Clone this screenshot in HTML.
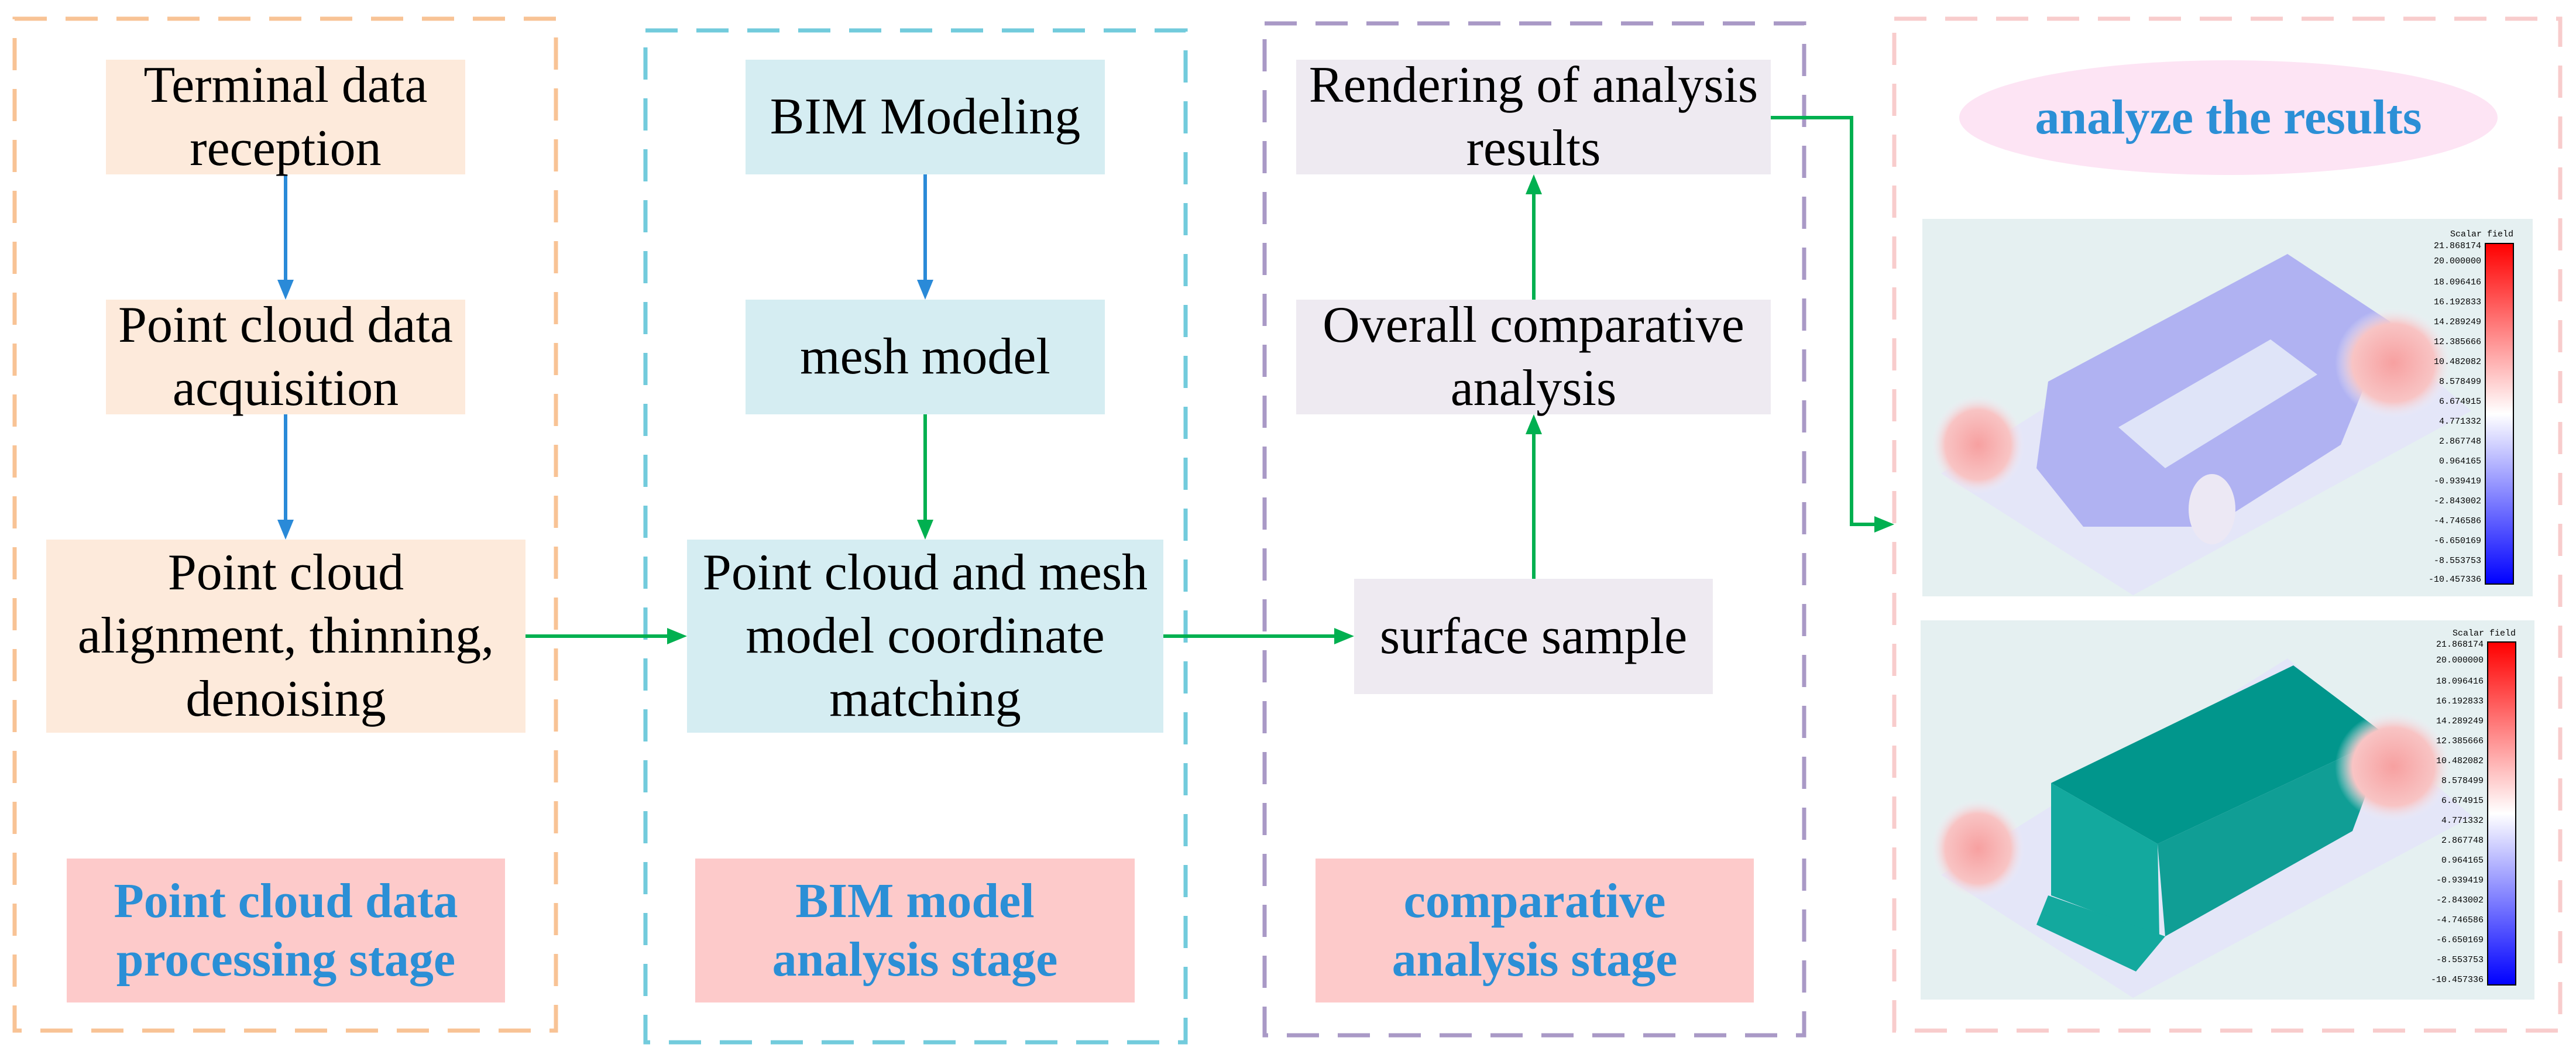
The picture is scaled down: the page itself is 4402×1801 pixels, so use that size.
<!DOCTYPE html>
<html><head><meta charset="utf-8"><style>
body{margin:0;width:4402px;height:1801px;background:#fff;position:relative;overflow:hidden;font-family:"Liberation Serif",serif}
.b{position:absolute;display:flex;align-items:center;justify-content:center;text-align:center;font-size:88px;line-height:108px;color:#000;white-space:nowrap}
.l{position:absolute;display:flex;align-items:center;justify-content:center;text-align:center;font-size:84px;line-height:100px;font-weight:bold;color:#2b8fd6;background:#fdcaca}
.o{background:#fdeadb}.c{background:#d5edf2}.p{background:#eeeaf1}
svg{position:absolute;left:0;top:0}
</style></head><body>
<svg width="4402" height="1801" viewBox="0 0 4402 1801">
<defs>
<linearGradient id="bar" x1="0" y1="0" x2="0" y2="1"><stop offset="0" stop-color="#ff0000"/><stop offset="0.5" stop-color="#ffffff"/><stop offset="1" stop-color="#0000ff"/></linearGradient>
<radialGradient id="tree"><stop offset="0" stop-color="#f7a0a0"/><stop offset="0.7" stop-color="#f8c4c4"/><stop offset="1" stop-color="#f0eef8" stop-opacity="0"/></radialGradient>
</defs>
<g fill="none" stroke-width="7" stroke-dasharray="55,32">
<rect x="25" y="32" width="925" height="1729" stroke="#f8c395"/>
<rect x="1103" y="52" width="923" height="1729" stroke="#72cbdc"/>
<rect x="2161" y="40" width="922" height="1729" stroke="#a999c6"/>
<rect x="3237" y="32" width="1138" height="1729" stroke="#f8cccc"/>
</g>
<ellipse cx="3808" cy="201" rx="460" ry="98" fill="#fde4f4"/>
<rect x="3285" y="374" width="1043" height="645" fill="#e5f0f1"/>
<polygon points="3317,809 3909,434 4223,702 3645,1017" fill="#e4e6f8"/>
<polygon points="3500,652 3909,434 4085,550 4000,760 3780,900 3560,900 3480,800" fill="#b0b2f2"/>
<polygon points="3620,730 3880,580 3960,640 3700,800" fill="#dfe4f8"/>
<ellipse cx="3380" cy="760" rx="80" ry="85" fill="url(#tree)"/>
<ellipse cx="4090" cy="620" rx="100" ry="95" fill="url(#tree)"/>
<ellipse cx="3780" cy="870" rx="40" ry="60" fill="#ece8f4"/>
<rect x="4247" y="416" width="48" height="582" fill="url(#bar)" stroke="#000" stroke-width="2"/>
<rect x="3282" y="1060" width="1049" height="648" fill="#e5f0f1"/>
<polygon points="3317,1495 3909,1125 4225,1395 3645,1705" fill="#e4e6f8"/>
<polygon points="3505,1338 3919,1137 4080,1258 3687,1442" fill="#01968c"/>
<polygon points="3505,1338 3687,1442 3690,1600 3505,1530" fill="#13a99e"/>
<polygon points="3687,1442 4080,1258 4020,1420 3700,1600" fill="#109e95"/>
<polygon points="3500,1530 3700,1600 3650,1660 3480,1580" fill="#13a99e"/>
<ellipse cx="3380" cy="1450" rx="80" ry="85" fill="url(#tree)"/>
<ellipse cx="4090" cy="1310" rx="100" ry="95" fill="url(#tree)"/>
<rect x="4251" y="1097" width="48" height="586" fill="url(#bar)" stroke="#000" stroke-width="2"/>
<g font-family="Liberation Mono,monospace" font-size="15" fill="#000" text-anchor="end">
<text x="4240" y="424">21.868174</text><text x="4240" y="450">20.000000</text><text x="4240" y="486">18.096416</text><text x="4240" y="520">16.192833</text><text x="4240" y="554">14.289249</text><text x="4240" y="588">12.385666</text><text x="4240" y="622">10.482082</text><text x="4240" y="656">8.578499</text><text x="4240" y="690">6.674915</text><text x="4240" y="724">4.771332</text><text x="4240" y="758">2.867748</text><text x="4240" y="792">0.964165</text><text x="4240" y="826">-0.939419</text><text x="4240" y="860">-2.843002</text><text x="4240" y="894">-4.746586</text><text x="4240" y="928">-6.650169</text><text x="4240" y="962">-8.553753</text><text x="4240" y="994">-10.457336</text>
<text x="4295" y="404">Scalar field</text>
<text x="4244" y="1105">21.868174</text><text x="4244" y="1132">20.000000</text><text x="4244" y="1168">18.096416</text><text x="4244" y="1202">16.192833</text><text x="4244" y="1236">14.289249</text><text x="4244" y="1270">12.385666</text><text x="4244" y="1304">10.482082</text><text x="4244" y="1338">8.578499</text><text x="4244" y="1372">6.674915</text><text x="4244" y="1406">4.771332</text><text x="4244" y="1440">2.867748</text><text x="4244" y="1474">0.964165</text><text x="4244" y="1508">-0.939419</text><text x="4244" y="1542">-2.843002</text><text x="4244" y="1576">-4.746586</text><text x="4244" y="1610">-6.650169</text><text x="4244" y="1644">-8.553753</text><text x="4244" y="1678">-10.457336</text>
<text x="4299" y="1086">Scalar field</text>
</g>
<g stroke-width="6" fill="none">
<line x1="488" y1="298" x2="488" y2="490" stroke="#2a8ad8"/>
<line x1="488" y1="708" x2="488" y2="900" stroke="#2a8ad8"/>
<line x1="1581" y1="298" x2="1581" y2="490" stroke="#2a8ad8"/>
<line x1="1581" y1="708" x2="1581" y2="900" stroke="#00b050"/>
<line x1="898" y1="1087" x2="1150" y2="1087" stroke="#00b050"/>
<line x1="1988" y1="1087" x2="2290" y2="1087" stroke="#00b050"/>
<line x1="2621" y1="989" x2="2621" y2="730" stroke="#00b050"/>
<line x1="2621" y1="512" x2="2621" y2="322" stroke="#00b050"/>
<polyline points="3026,201 3164,201 3164,896 3213,896" stroke="#00b050"/>
</g>
<g>
<polygon points="474,478 502,478 488,512" fill="#2a8ad8"/>
<polygon points="474,888 502,888 488,922" fill="#2a8ad8"/>
<polygon points="1567,478 1595,478 1581,512" fill="#2a8ad8"/>
<polygon points="1567,888 1595,888 1581,922" fill="#00b050"/>
<polygon points="1140,1073 1140,1101 1174,1087" fill="#00b050"/>
<polygon points="2280,1073 2280,1101 2314,1087" fill="#00b050"/>
<polygon points="2607,742 2635,742 2621,708" fill="#00b050"/>
<polygon points="2607,332 2635,332 2621,298" fill="#00b050"/>
<polygon points="3203,882 3203,910 3237,896" fill="#00b050"/>
</g>
</svg>
<div class="b o" style="left:181px;top:102px;width:614px;height:196px">Terminal data<br>reception</div>
<div class="b o" style="left:181px;top:512px;width:614px;height:196px">Point cloud data<br>acquisition</div>
<div class="b o" style="left:79px;top:922px;width:819px;height:330px">Point cloud<br>alignment, thinning,<br>denoising</div>
<div class="l" style="left:114px;top:1467px;width:749px;height:246px">Point cloud data<br>processing stage</div>
<div class="b c" style="left:1274px;top:102px;width:614px;height:196px">BIM Modeling</div>
<div class="b c" style="left:1274px;top:512px;width:614px;height:196px">mesh model</div>
<div class="b c" style="left:1174px;top:922px;width:814px;height:330px">Point cloud and mesh<br>model coordinate<br>matching</div>
<div class="l" style="left:1188px;top:1467px;width:751px;height:246px">BIM model<br>analysis stage</div>
<div class="b p" style="left:2215px;top:102px;width:811px;height:196px">Rendering of analysis<br>results</div>
<div class="b p" style="left:2215px;top:512px;width:811px;height:196px">Overall comparative<br>analysis</div>
<div class="b p" style="left:2314px;top:989px;width:613px;height:197px">surface sample</div>
<div class="l" style="left:2248px;top:1467px;width:749px;height:246px">comparative<br>analysis stage</div>
<div class="l" style="left:3348px;top:103px;width:920px;height:196px;background:none">analyze the results</div>
</body></html>
